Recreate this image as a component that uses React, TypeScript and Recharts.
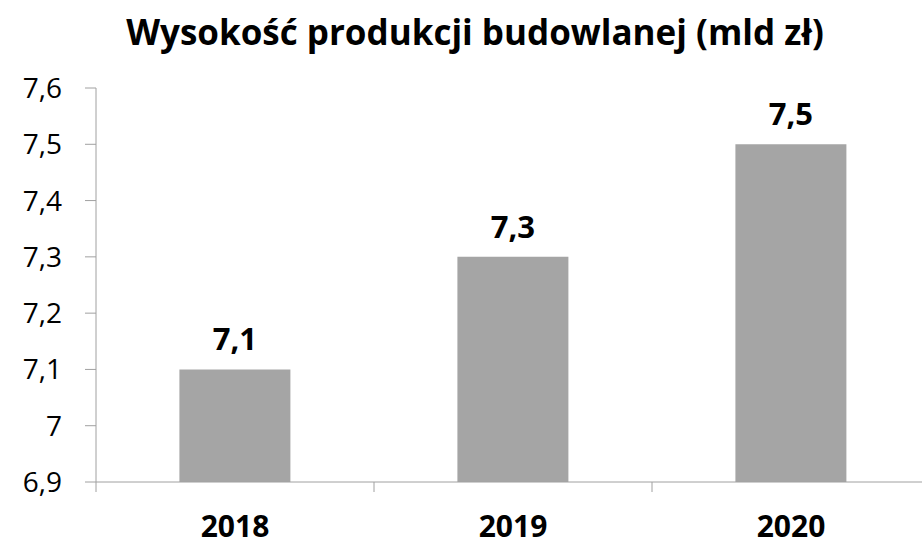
import { BarChart, Bar, XAxis, YAxis, LabelList } from "recharts";

const years = ["2018", "2019", "2020"];
const production = [7.1, 7.3, 7.5];
const yTicks = [6.9, 7.0, 7.1, 7.2, 7.3, 7.4, 7.5, 7.6];
const title = "Wysokość produkcji budowlanej (mld zł)";

const FONT = "'Open Sans', sans-serif";
const AXIS = "#a0a0a0";

const data = years.map((year, i) => ({ year, value: production[i] }));

function formatPl(v: number) {
  return String(Number(v.toFixed(1))).replace(".", ",");
}

function YearTick(props: any) {
  const { x, y, payload } = props;
  const half = payload?.offset ?? 139;
  return (
    <g>
      <line x1={x - half} x2={x - half} y1={y - 10} y2={y} stroke={AXIS} strokeWidth={1} />
      <text
        x={x}
        y={y + 45}
        textAnchor="middle"
        fontFamily={FONT}
        fontWeight="bold"
        fontSize={30}
        fill="#000"
      >
        {payload.value}
      </text>
    </g>
  );
}

export default function App() {
  return (
    <div
      style={{
        position: "fixed",
        top: 0,
        left: 0,
        width: 922,
        height: 541,
        overflow: "hidden",
        background: "#fff",
      }}
    >
      <BarChart
        width={930}
        height={541}
        data={data}
        margin={{ top: 88, right: 0, left: 0, bottom: 0 }}
        barCategoryGap="30%"
      >
        <XAxis
          dataKey="year"
          height={59}
          axisLine={{ stroke: AXIS }}
          tickLine={{ stroke: "none" }}
          tickSize={10}
          tickMargin={0}
          tick={<YearTick />}
          interval={0}
        />
        <YAxis
          width={96}
          domain={[6.9, 7.6]}
          ticks={yTicks}
          interval={0}
          axisLine={{ stroke: AXIS }}
          tickLine={{ stroke: AXIS }}
          tickSize={11}
          tickMargin={23}
          tickFormatter={formatPl}
          tick={{ fill: "#000", fontSize: 28, fontFamily: FONT }}
        />
        <Bar dataKey="value" fill="#a5a5a5" isAnimationActive={false}>
          <LabelList
            dataKey="value"
            position="top"
            offset={19}
            formatter={(v: any) => formatPl(Number(v))}
            fill="#000"
            fontSize={31}
            fontWeight="bold"
            fontFamily={FONT}
          />
        </Bar>
      </BarChart>
      <svg
        width={922}
        height={541}
        style={{ position: "absolute", top: 0, left: 0, pointerEvents: "none" }}
      >
        <text
          x={475}
          y={45}
          textAnchor="middle"
          fontFamily={FONT}
          fontWeight="bold"
          fontSize={35}
          fill="#000"
        >
          {title}
        </text>
      </svg>
    </div>
  );
}
